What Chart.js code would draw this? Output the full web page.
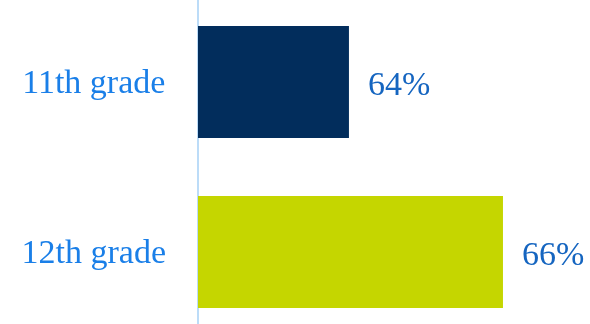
<!DOCTYPE html>
<html>
<head>
<meta charset="utf-8">
<script src="https://cdn.jsdelivr.net/npm/chart.js@4/dist/chart.umd.min.js"></script>
<style>
  html, body { margin: 0; padding: 0; background: #ffffff; overflow: hidden; }
  #wrap { position: absolute; left: 0; top: -3px; width: 590px; height: 340px; }
</style>
</head>
<body>
<div id="wrap"><canvas id="chart"></canvas></div>
<script>
// Share of students, by grade
const categories = ['11th grade', '12th grade'];
const shares = [64, 66];
const barColors = ['#022d5c', '#c5d600'];

// Draws "NN%" just past the end of each bar
const valueLabels = {
  id: 'valueLabels',
  afterDatasetsDraw(chart) {
    const ctx = chart.ctx;
    const meta = chart.getDatasetMeta(0);
    ctx.save();
    ctx.font = '34px "Liberation Serif"';
    ctx.fillStyle = '#1565c0';
    ctx.textAlign = 'left';
    ctx.textBaseline = 'middle';
    meta.data.forEach((bar, i) => {
      ctx.fillText(shares[i] + '%', bar.x + 19, bar.y + 4);
    });
    ctx.restore();
  }
};

new Chart(document.getElementById('chart'), {
  type: 'bar',
  data: {
    labels: categories,
    datasets: [{
      data: shares,
      backgroundColor: barColors,
      borderWidth: 0,
      barPercentage: 0.66,
      categoryPercentage: 1
    }]
  },
  options: {
    indexAxis: 'y',
    responsive: true,
    maintainAspectRatio: false,
    animation: false,
    layout: { padding: 0 },
    plugins: {
      legend: { display: false },
      tooltip: { enabled: false }
    },
    scales: {
      x: {
        display: false,
        min: 62.04,
        max: 67.13
      },
      y: {
        afterFit(scale) {
          // fixed label column; the bars run the full height
          scale.width = 198;
          scale.paddingTop = 0;
          scale.paddingBottom = 0;
        },
        grid: { display: false, drawTicks: false },
        border: { display: true, color: '#bcdcf8', width: 2 },
        ticks: {
          crossAlign: 'center',
          padding: 32,
          labelOffset: 2,
          color: '#1a7fe8',
          font: { family: '"Liberation Serif"', size: 34 }
        }
      }
    }
  },
  plugins: [valueLabels]
});
</script>
</body>
</html>
